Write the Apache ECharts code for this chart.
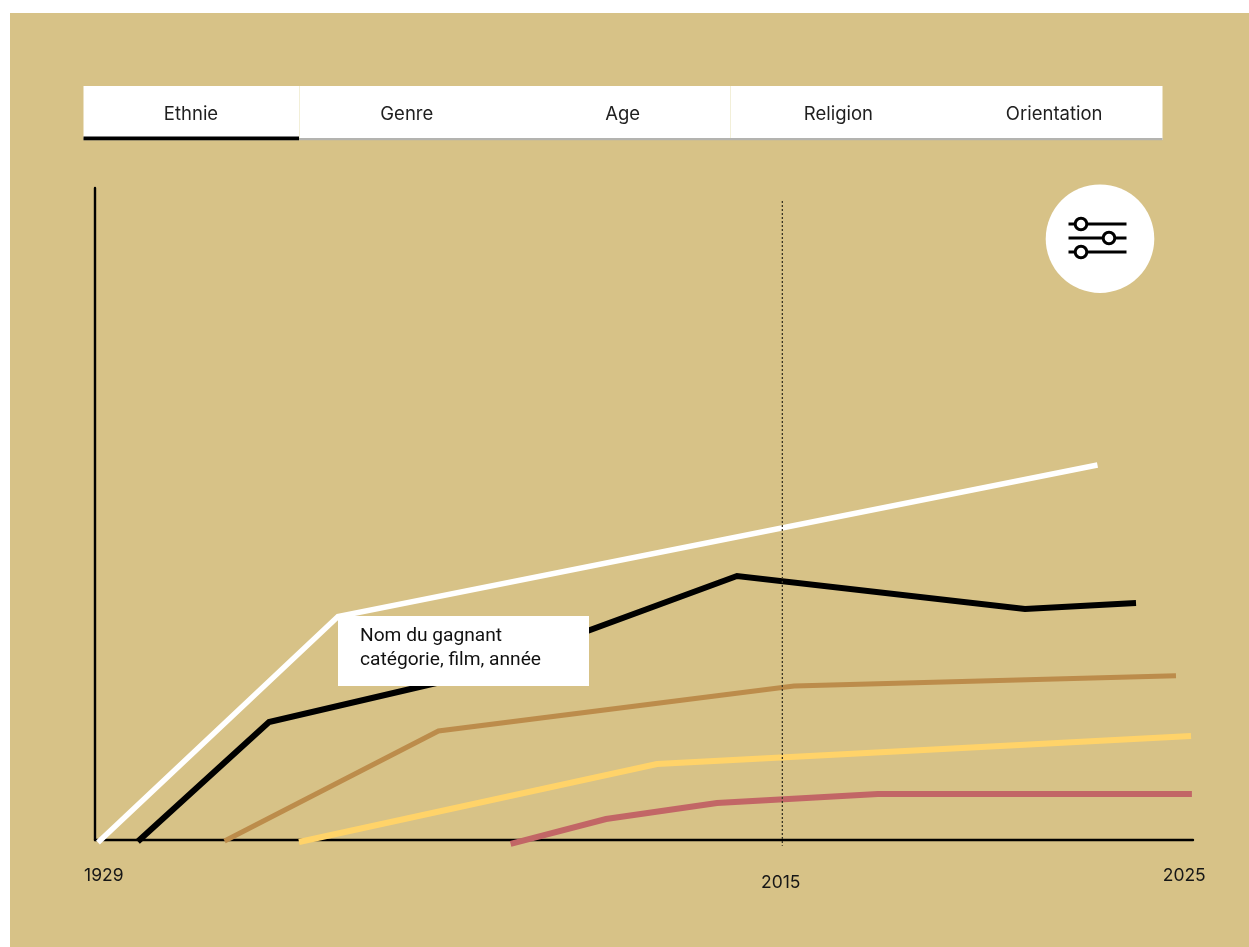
<!DOCTYPE html>
<html>
<head>
<meta charset="utf-8">
<style>html,body{margin:0;padding:0;background:#fff}#chart{width:1249px;height:947px}</style>
<script src="https://cdn.jsdelivr.net/npm/echarts@6/dist/echarts.min.js"></script>
</head>
<body>
<div id="chart"></div>
<script>
const tabs = ['Ethnie', 'Genre', 'Age', 'Religion', 'Orientation'];
const tickPositions = [0.8, 62.45, 99.2];
const tickLabels = ['1929', '2015', '2025'];
const tooltipLines = ['Nom du gagnant', 'catégorie, film, année'];

// x and y are read off the picture, as percent of each axis (the axis is not linear in years)
const whiteLine = [[0.27, -0.38], [22.13, 34.28], [91.3, 57.52]];
const blackLine = [[3.9, -0.23], [15.85, 18.1], [33.42, 25], [58.47, 40.49], [84.7, 35.43], [94.81, 36.35]];
const brownLine = [[11.8, -0.15], [31.28, 16.72], [63.66, 23.62], [98.45, 25.2]];
const yellowLine = [[18.58, -0.3], [51.18, 11.66], [99.82, 15.95]];
const roseLine = [[37.85, -0.6], [46.54, 3.22], [56.65, 5.67], [71.3, 7.06], [99.9, 7.06]];
const marker2015 = [[62.6, 98], [62.6, -0.9]];

const BG = '#D7C287';
const UI = 'Inter, "Noto Sans", sans-serif';

function line(name, data, color, width) {
  return { name, type: 'line', data, symbol: 'none', clip: false, silent: true,
           lineStyle: { color, width, cap: 'butt', join: 'miter' } };
}

const graphic = [
  { type: 'rect', z: -10, shape: { x: 10, y: 13, width: 1239, height: 934 }, style: { fill: BG } },
  { type: 'rect', z: 1, shape: { x: 83.5, y: 86, width: 1079, height: 54 }, style: { fill: '#fff' } },
  { type: 'rect', z: 1, shape: { x: 83.5, y: 138, width: 1079, height: 2.2 }, style: { fill: '#B3B3B0' } },
  { type: 'rect', z: 1, shape: { x: 83.5, y: 136.5, width: 215.5, height: 3.7 }, style: { fill: '#000' } },
  { type: 'rect', z: 1, shape: { x: 299, y: 86, width: 1, height: 52 }, style: { fill: '#F2EFD8' } },
  { type: 'rect', z: 1, shape: { x: 730, y: 86, width: 1, height: 52 }, style: { fill: '#F2EFD8' } },
  { type: 'rect', z: 100, shape: { x: 338, y: 616, width: 251, height: 70 }, style: { fill: '#fff' } },
  { type: 'circle', z: 1, shape: { cx: 1100, cy: 238.7, r: 54.3 }, style: { fill: '#fff' } }
];
tabs.forEach((t, i) => graphic.push({
  type: 'text', z: 5, x: 83.5 + 215.8 * i + 107.5, y: 114,
  style: { text: t, fill: '#1f1f1f', font: '18.5px ' + UI, align: 'center', verticalAlign: 'middle' }
}));
tooltipLines.forEach((t, i) => graphic.push({
  type: 'text', z: 101, x: 360, y: 636 + 24 * i, scaleX: 1.065,
  style: { text: t, fill: '#111', font: '18px Roboto, sans-serif', align: 'left', verticalAlign: 'middle' }
}));
[[224, 1081], [238, 1109], [252, 1081]].forEach(([y, k]) => {
  graphic.push({ type: 'line', z: 5, shape: { x1: 1068.5, y1: y, x2: 1126.5, y2: y }, style: { stroke: '#000', lineWidth: 3 } });
  graphic.push({ type: 'circle', z: 6, shape: { cx: k, cy: y, r: 5.8 }, style: { fill: '#fff', stroke: '#000', lineWidth: 3 } });
});

const chart = echarts.init(document.getElementById('chart'), null, { renderer: 'canvas' });
chart.setOption({
  animation: false,
  backgroundColor: '#fff',
  grid: { left: 95, right: 56, top: 188, bottom: 107, containLabel: false },
  xAxis: {
    type: 'value', min: 0, max: 100, splitLine: { show: false },
    axisLine: { show: true, onZero: false, lineStyle: { color: '#000', width: 2.4 } },
    axisTick: { show: false },
    axisLabel: {
      customValues: tickPositions, margin: 27, hideOverlap: false,
      color: '#161616', fontFamily: UI, fontSize: 17.5,
      formatter: (v) => {
        const i = tickPositions.indexOf(v);
        return i === 1 ? '{low|' + tickLabels[i] + '}' : tickLabels[i];
      },
      rich: { low: { color: '#161616', fontFamily: UI, fontSize: 17.5, padding: [7, 0, 0, 0] } }
    }
  },
  yAxis: {
    type: 'value', min: 0, max: 100, splitLine: { show: false },
    axisLine: { show: true, onZero: false, lineStyle: { color: '#000', width: 2.4 } },
    axisTick: { show: false }, axisLabel: { show: false }
  },
  series: [
    line('Blanc', whiteLine, '#FFFFFF', 5.5),
    line('Noir', blackLine, '#000000', 6),
    line('Brun', brownLine, '#BC8C4B', 5),
    line('Jaune', yellowLine, '#FFD369', 6),
    line('Rose', roseLine, '#C26666', 6),
    { name: '2015', type: 'line', data: marker2015, symbol: 'none', clip: false, silent: true, z: 5,
      lineStyle: { color: '#3a3524', width: 1.3, type: [2, 2] } }
  ],
  graphic
});
</script>
</body>
</html>
